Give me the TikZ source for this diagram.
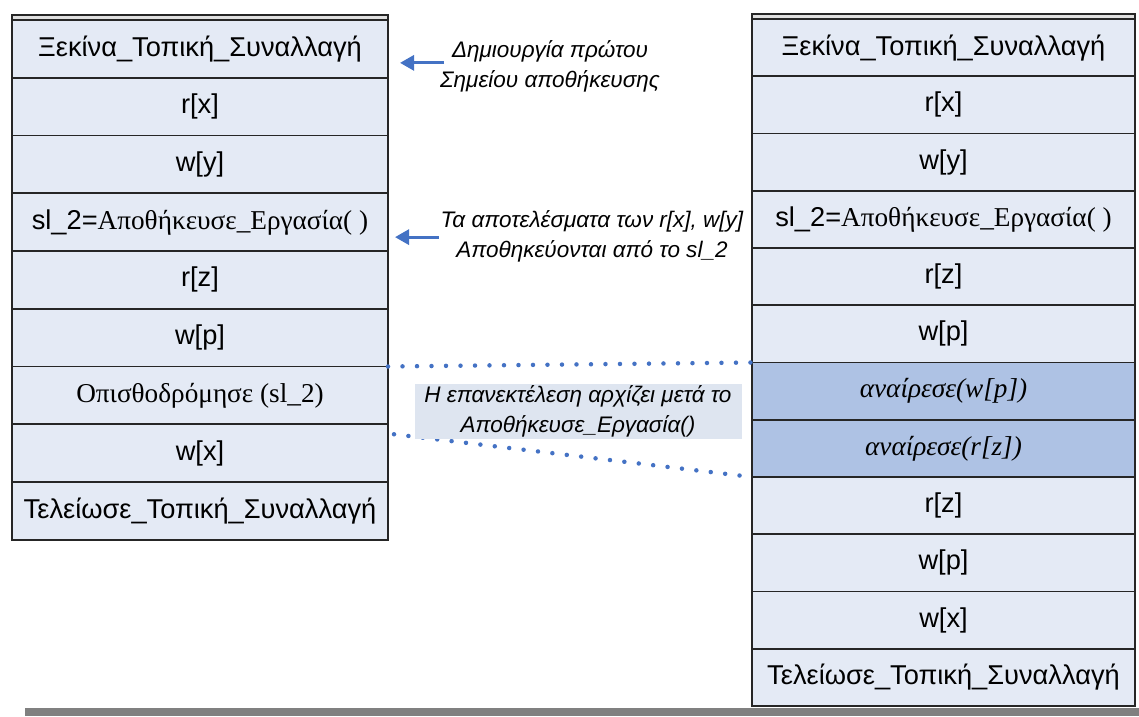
\documentclass[tikz,border=0pt]{standalone}
\usepackage{fontspec}
\setmainfont{Liberation Sans}
\newfontfamily\grserif{Liberation Serif}
\usetikzlibrary{arrows.meta, positioning, calc}

\definecolor{rowfill}{HTML}{E4EAF5}
\definecolor{undofill}{HTML}{AEC2E4}
\definecolor{notefill}{HTML}{DEE5F0}
\definecolor{pointer}{HTML}{4472C4}

\begin{document}
\begin{tikzpicture}[
  node distance=0pt,
  font=\fontsize{15.5}{18}\selectfont,
  op/.style={rectangle, draw=black!85, line width=1.1pt, fill=rowfill, inner sep=0pt, outer sep=0pt, align=center},
  opL/.style={op, minimum width=7.52cm, minimum height=1.155cm},
  opR/.style={op, minimum width=7.66cm, minimum height=1.145cm},
  undo/.style={fill=undofill, font=\fontsize{15.5}{18}\selectfont\grserif\itshape},
  lid/.style={draw=black!85, line width=1.1pt, fill=black!12},
  arr/.style={-{Triangle[length=0.28cm, width=0.3cm]}, line width=1.7pt, draw=pointer},
  dots/.style={draw=pointer, line width=0.09cm, line cap=round, dash pattern=on 0pt off 0.29cm},
  note/.style={font=\fontsize{12.8}{17}\selectfont\itshape, align=center, inner sep=1pt},
  replay/.style={note, fill=notefill, minimum width=6.54cm, minimum height=1.06cm}
]
\useasboundingbox (0,0) rectangle (22.78,-14.32);

% transaction with a savepoint
\node[opL, anchor=north] (L1) at (4.0,-0.40) {Ξεκίνα\_Τοπική\_Συναλλαγή};
\node[opL, below=of L1] (L2) {r[x]};
\node[opL, below=of L2] (L3) {w[y]};
\node[opL, below=of L3] (L4) {sl\_2={\grserif Αποθήκευσε\_Εργασία( )}};
\node[opL, below=of L4] (L5) {r[z]};
\node[opL, below=of L5] (L6) {w[p]};
\node[opL, below=of L6] (L7) {\grserif Οπισθοδρόμησε (sl\_2)};
\node[opL, below=of L7] (L8) {w[x]};
\node[opL, below=of L8] (L9) {Τελείωσε\_Τοπική\_Συναλλαγή};
\draw[lid] ([yshift=0.1cm]L1.north west) rectangle (L1.north east);

% the same transaction after the rollback
\node[opR, anchor=north] (R1) at (18.87,-0.38) {Ξεκίνα\_Τοπική\_Συναλλαγή};
\node[opR, below=of R1] (R2) {r[x]};
\node[opR, below=of R2] (R3) {w[y]};
\node[opR, below=of R3] (R4) {sl\_2={\grserif Αποθήκευσε\_Εργασία( )}};
\node[opR, below=of R4] (R5) {r[z]};
\node[opR, below=of R5] (R6) {w[p]};
\node[opR, undo, below=of R6] (R7) {αναίρεσε(w[p])};
\node[opR, undo, below=of R7] (R8) {αναίρεσε(r[z])};
\node[opR, below=of R8] (R9) {r[z]};
\node[opR, below=of R9] (R10) {w[p]};
\node[opR, below=of R10] (R11) {w[x]};
\node[opR, below=of R11] (R12) {Τελείωσε\_Τοπική\_Συναλλαγή};
\draw[lid] ([yshift=0.1cm]R1.north west) rectangle (R1.north east);

% notes
\node[note] (note1) at (11.0,-1.32) {Δημιουργία πρώτου\\Σημείου αποθήκευσης};
\node[note] (note2) at (11.84,-4.72) {Τα αποτελέσματα των r[x], w[y]\\Αποθηκεύονται από το sl\_2};
\coordinate (pin1) at ([xshift=0.24cm, yshift=-0.28cm]L1.east);
\coordinate (pin2) at ([xshift=0.14cm, yshift=-0.3cm]L4.east);
\draw[arr] ([xshift=0.12cm]note1.west |- pin1) -- (pin1);
\draw[arr] (note2.west |- pin2) -- (pin2);

% replay starts after the savepoint
\draw[dots] (L7.north east) -- (R7.north west);
\draw[dots] ([xshift=0.12cm, yshift=-0.2cm]L8.north east) -- (R8.south west);
\node[replay] (replay) at (11.56,-8.22) {Η επανεκτέλεση αρχίζει μετά το\\Αποθήκευσε\_Εργασία()};

\fill[black!50] (0.5,-14.16) rectangle (22.78,-14.32);
\end{tikzpicture}
\end{document}
